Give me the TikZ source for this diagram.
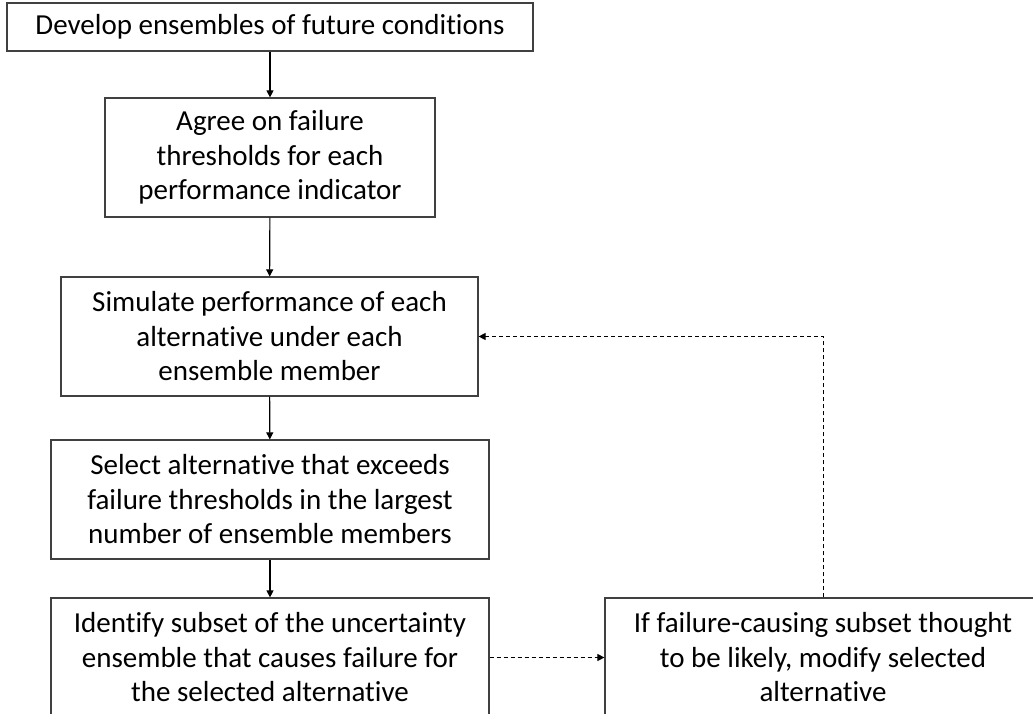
\documentclass[tikz,border=0pt]{standalone}
\usepackage{fontspec}
\setmainfont{Carlito}[Ligatures=NoCommon]
\usetikzlibrary{arrows.meta}

\begin{document}
\begin{tikzpicture}[x=1pt,y=-1pt,line cap=butt,line join=miter,
  stepbox/.style={draw=black!75,line width=1.2pt,align=center,inner sep=0pt,
    font=\fontsize{29}{34.5}\selectfont},
  flow/.style={line width=1.1pt,-{Triangle[length=7pt,width=7pt]}},
  back/.style={flow,line width=1pt,dash pattern=on 4pt off 3pt}]
  \useasboundingbox (0,0) rectangle (1033,714);
  \node[stepbox,minimum width=526pt,minimum height=48pt] (develop) at (270,27)
    {Develop ensembles of future conditions};
  \node[stepbox,minimum width=330pt,minimum height=119pt] (agree) at (270,157.5)
    {Agree on failure\\thresholds for each\\performance indicator};
  \node[stepbox,minimum width=417pt,minimum height=119pt] (simulate) at (269.5,336.5)
    {Simulate performance of each\\alternative under each\\ensemble member};
  \node[stepbox,minimum width=438pt,minimum height=119pt] (select) at (270,499.5)
    {Select alternative that exceeds\\failure thresholds in the largest\\number of ensemble members};
  \node[stepbox,minimum width=438pt,minimum height=119pt] (identify) at (270,657.5)
    {Identify subset of the uncertainty\\ensemble that causes failure for\\the selected alternative};
  \node[stepbox,minimum width=436pt,minimum height=119pt] (modify) at (823,657.5)
    {If failure-causing subset thought\\to be likely, modify selected\\alternative};
  \draw[flow] (develop) -- (agree);
  \draw[flow] (agree) -- (simulate);
  \draw[flow] (simulate) -- (select);
  \draw[flow] (select) -- (identify);
  \draw[back] (identify) -- (modify);
  \draw[back] (modify.north) |- (simulate.east);
\end{tikzpicture}
\end{document}
